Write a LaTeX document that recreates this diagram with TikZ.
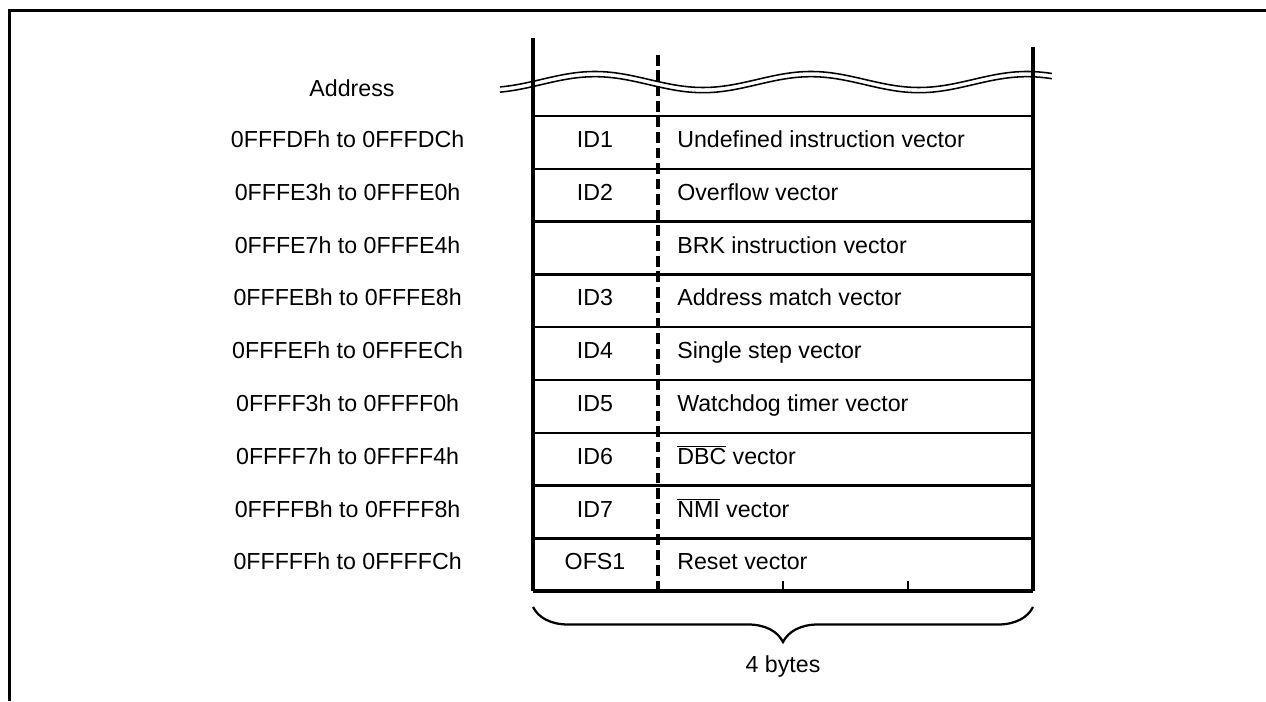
\documentclass[tikz,border=0pt]{standalone}
\usepackage{fontspec}
\setmainfont{Liberation Sans}
\usetikzlibrary{decorations.pathreplacing}

\newcommand{\lowact}[1]{$\overline{\mbox{#1}}$}

\begin{document}
\begin{tikzpicture}[
    lbl/.style={inner sep=0pt, text height=0.72em, text depth=0pt,
        font=\fontsize{16.5}{20}\selectfont},
    grid/.style={line width=1.8pt},
    wall/.style={line width=2.6pt}
]
\useasboundingbox (0,0) rectangle (31.65,17.525);

% Frame
\draw[line width=2.4pt] (0.2375,0) -- (0.2375,17.2575) -- (31.65,17.2575);

% Break line
\foreach \dy in {0,-0.13}
  \draw[line width=1.1pt, domain=12.5:26.3, samples=120, smooth]
    plot (\x,{15.5375+\dy+0.2*cos(360*(\x-14.875)/5.4)});

% Walls
\draw[wall] (13.325,16.575) -- (13.325,2.745);
\draw[wall] (25.825,16.35) -- (25.825,2.745);
\draw[line width=2.4pt, dash pattern=on 7.5pt off 3.5pt] (16.45,16.15) -- (16.45,2.745);

% Rows
\foreach \k in {0,...,8}
  \draw[grid] (13.325,{14.625-1.32*\k}) -- (25.825,{14.625-1.32*\k});
\draw[wall] (13.325,2.745) -- (25.825,2.745);
\foreach \x in {19.575,22.7}
  \draw[grid] (\x,2.745) -- (\x,3.0);

% Labels
\node[lbl] (addrhead) at (8.8,15.23) {Address};
\foreach \k/\addr/\ident/\vname in {
    0/0FFFDFh to 0FFFDCh/ID1/Undefined instruction vector,
    1/0FFFE3h to 0FFFE0h/ID2/Overflow vector,
    2/0FFFE7h to 0FFFE4h/{}/BRK instruction vector,
    3/0FFFEBh to 0FFFE8h/ID3/Address match vector,
    4/0FFFEFh to 0FFFECh/ID4/Single step vector,
    5/0FFFF3h to 0FFFF0h/ID5/Watchdog timer vector,
    6/0FFFF7h to 0FFFF4h/ID6/\lowact{DBC} vector,
    7/0FFFFBh to 0FFFF8h/ID7/\lowact{NMI} vector,
    8/0FFFFFh to 0FFFFCh/OFS1/Reset vector}
{
  \node[lbl] (addr\k) at (8.69,{13.965-1.32*\k}) {\addr};
  \node[lbl] (id\k) at (14.875,{13.965-1.32*\k}) {\ident};
  \node[lbl, anchor=west] (vec\k) at (16.925,{13.965-1.32*\k}) {\vname};
}

% Width brace
\coordinate (bl) at (13.325,2.35);
\coordinate (br) at (25.825,2.35);
\draw[line width=1.6pt, decorate, decoration={brace, mirror, amplitude=0.875cm}] (bl) -- (br);
\node[lbl] (bytes) at (19.575,0.85) {4 bytes};

\end{tikzpicture}
\end{document}
